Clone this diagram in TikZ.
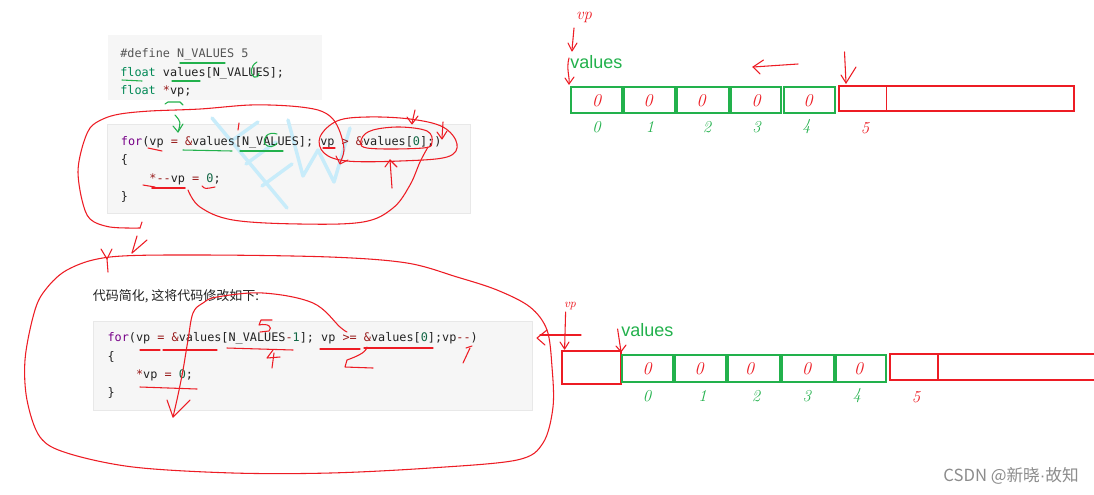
\documentclass[tikz,border=0pt]{standalone}
\usepackage{fontspec}
\setmonofont{DejaVu Sans Mono}
\newfontfamily\cjk{Noto Sans CJK SC}
\newfontfamily\lab{Liberation Sans}
\definecolor{hred}{RGB}{237,28,36}
\definecolor{hgreen}{RGB}{34,177,76}
\definecolor{codebg}{RGB}{246,246,246}
\definecolor{codeborder}{RGB}{232,232,232}
\definecolor{ckw}{HTML}{770088}
\definecolor{cty}{HTML}{008855}
\definecolor{cnum}{HTML}{116644}
\definecolor{cop}{HTML}{981A1A}
\definecolor{cmeta}{HTML}{555555}
\definecolor{ctext}{HTML}{222222}
\definecolor{wmark}{RGB}{200,236,250}
\newcommand{\kw}[1]{\textcolor{ckw}{#1}}
\newcommand{\ty}[1]{\textcolor{cty}{#1}}
\newcommand{\nm}[1]{\textcolor{cnum}{#1}}
\newcommand{\op}[1]{\textcolor{cop}{#1}}
\begin{document}
\begin{tikzpicture}[x=0.75pt,y=-0.75pt,
  code/.style={anchor=base west,inner sep=0pt,font=\fontsize{8.87}{10}\ttfamily,text=ctext},
  pen/.style={draw=hred,line width=0.8pt,line cap=round,line join=round},
  gpen/.style={draw=hgreen,line width=0.8pt,line cap=round,line join=round},
  gbox/.style={draw=hgreen,line width=1.5pt},
  rbox/.style={draw=hred,line width=1.5pt},
  hand/.style={inner sep=0pt,font=\fontsize{12.5}{12.5}\selectfont\itshape},
  bighand/.style={inner sep=0pt,font=\fontsize{13.5}{13.5}\selectfont\itshape,text=hred},
  lbl/.style={anchor=base west,inner sep=0pt,font=\lab\fontsize{13.5}{14}\selectfont,text=hgreen},
  wm/.style={draw=wmark,line width=2.6pt,line cap=round,line join=round}]
\useasboundingbox (0,0) rectangle (1094,494);
\fill[white] (0,0) rectangle (1094,494);

% code backgrounds
\fill[codebg] (108,35) rectangle (322,100);
\draw[fill=codebg,draw=codeborder] (107,124) rectangle (470,213);
\draw[fill=codebg,draw=codeborder] (93,321) rectangle (532,410);

% cyan watermark
\draw[wm] (212,118) -- (287,208);
\draw[wm] (230,142) -- (258,122);
\draw[wm] (246,164) -- (276,142);
\draw[wm] (262,186) -- (292,164);
\draw[wm] (288,120) -- (303,176) -- (318,150) -- (334,182) -- (350,128);

% code block 1
\node[code] (c1a) at (120,57.5) {\textcolor{cmeta}{\#define N\_VALUES 5}};
\node[code] (c1b) at (120,76) {\ty{float} values[N\_VALUES];};
\node[code] (c1c) at (120,94.5) {\ty{float} \op{*}vp;};
% code block 2
\node[code] (c2a) at (120.7,145) {\kw{for}(vp \op{=} \op{\&}values[N\_VALUES]; vp \op{>} \op{\&}values[\nm{0}];)};
\node[code] (c2b) at (120.7,163.5) {\{};
\node[code] (c2c) at (149.2,182) {\op{*--}vp \op{=} \nm{0};};
\node[code] (c2d) at (120.7,200.5) {\}};
% chinese text
\node[anchor=base west,inner sep=0pt,font=\cjk\fontsize{9.75}{11}\selectfont,text=ctext] (cn) at (92.7,300) {代码简化, 这将代码修改如下:};
% code block 3
\node[code] (c3a) at (107.3,341.7) {\kw{for}(vp \op{=} \op{\&}values[N\_VALUES\op{-}\nm{1}]; vp \op{>=} \op{\&}values[\nm{0}];vp\op{--})};
\node[code] (c3b) at (107.3,360) {\{};
\node[code] (c3c) at (135.8,378.3) {\op{*}vp \op{=} \nm{0};};
\node[code] (c3d) at (107.3,396.6) {\}};

% top array
\draw[gbox] (570.7,86.7) rectangle (622.3,112.7);
\draw[gbox] (624,86.7) rectangle (675,112.7);
\draw[gbox] (677.4,86.7) rectangle (729,112.7);
\draw[gbox] (730.8,86.7) rectangle (781.4,112.7);
\draw[gbox] (784,86.7) rectangle (835,112.7);
\draw[rbox] (839.3,86) rectangle (1074.2,111);
\draw[hred,line width=1pt] (886.8,86) -- (886.8,111);
\foreach \x/\n in {596.5/a0,648/a1,701/a2,756/a3,808/a4}{\node[bighand] (t\n) at (\x,101) {0};}
\foreach \x/\d in {596.5/0,650/1,707/2,756.6/3,806.6/4}{\node[hand,text=hgreen] (ti\d) at (\x,127) {\d};}
\node[hand,text=hred] (ti5) at (865,128) {5};
\node[lbl] (val1) at (570,68.3) {values};
\node[hand,text=hred] (vp1) at (584,17) {vp};
\draw[pen] (574,28) -- (572,50); \draw[pen] (568,43) -- (572,51) -- (577,43);
\draw[pen] (569,58) .. controls (566,69) and (570,77) .. (569,84); \draw[pen] (565,78) -- (569,84) -- (574,77);
\draw[pen] (844.5,52) -- (846,83); \draw[pen] (841,75) -- (846,83) -- (856,67);
\draw[pen] (798,64) -- (753,67); \draw[pen] (763.5,60) -- (753,67) -- (760,74);

% bottom array
\draw[rbox] (562,350.7) rectangle (621,384);
\draw[gbox] (622,355) rectangle (673,381.7);
\draw[gbox] (675,355) rectangle (726,381.7);
\draw[gbox] (728,355) rectangle (780,381.7);
\draw[gbox] (782,355) rectangle (834,381.7);
\draw[gbox] (835.5,355) rectangle (886,381.7);
\draw[rbox] (1094,354) -- (890,354) -- (890,380) -- (1094,380);
\draw[hred,line width=1pt] (938,354) -- (938,380);
\foreach \x/\n in {647/b0,699/b1,749.5/b2,806.7/b3,858.7/b4}{\node[bighand] (t\n) at (\x,369) {0};}
\foreach \x/\d in {647/0,702.6/1,756/2,806.7/3,857/4}{\node[hand,text=hgreen] (tj\d) at (\x,396) {\d};}
\node[hand,text=hred] (tj5) at (916,397) {5};
\node[lbl] (val2) at (621,336.7) {values};
\node[hand,text=hred,font=\fontsize{9}{9}\selectfont\itshape] (vp2) at (570,306) {vp};
\draw[pen] (565.6,312) -- (564.6,349); \draw[pen] (560,342) -- (564.6,349) -- (569,342);
\draw[pen] (617.6,329) .. controls (619,340) .. (621,351.7); \draw[pen] (616,346) -- (621,351.7) -- (626,345);
\draw[pen] (540,335) -- (581,335);
\draw[pen] (547,330) -- (537,338) -- (545,345);

% block 1 green marks
\draw[gpen] (122,80) -- (142,81);
\draw[gpen] (172,81) -- (200,81);
\draw[gpen] (180,63) -- (225,63);
\draw[gpen] (257,62) .. controls (250,66) and (250,74) .. (254,77) .. controls (258,77) .. (259,73);
\draw[gpen] (165,104) -- (168,102) -- (180,102) -- (183,105);

% block 2 marks
\draw[gpen] (175,115) .. controls (181,122) .. (178,132); \draw[gpen] (173,126) -- (178,132) -- (183,124);
\draw[gpen] (183,150) -- (232,151);
\draw[gpen] (240,151) -- (283,151);
\draw[gpen] (277,134) .. controls (268,131) and (262,138) .. (265,144) .. controls (268,148) and (275,147) .. (277,143);
\draw[pen] (148,148) -- (162,151);
\draw[pen] (323,148) -- (335,148);
\draw[pen,line width=1.3pt] (152,188) -- (185,188);
\draw[pen] (143,185) -- (155,187);
\draw[pen] (202,186) .. controls (205,189) .. (215,187);
\draw[pen] (239,123) -- (238,130);

% loop A around block 2
\draw[pen] plot[smooth,tension=0.55] coordinates {(140,228) (110,227) (90,219) (82,200) (78,172) (82,148) (90,128) (103,119) (120,114) (150,111) (200,109) (250,105) (290,106) (318,110) (332,118) (340,132) (344,150) (340,163)};
\draw[pen] (140,228) -- (142,222);
\draw[pen] (336,156) -- (340,164) -- (348,160);
% ovals
\draw[pen] plot[smooth cycle,tension=0.6] coordinates {(320,137) (337,121) (367,117) (410,119) (443,127) (457,144) (447,157) (400,161) (347,161) (324,153)};
\draw[pen] plot[smooth cycle,tension=0.6] coordinates {(362,138) (373,130) (400,127) (427,131) (432,142) (423,148) (367,148)};
% loop B
\draw[pen] plot[smooth,tension=0.6] coordinates {(188,190) (200,207) (233,220) (300,224) (363,222) (393,208) (410,185) (420,162) (428,147)};
\draw[pen] (415,110) -- (412,123); \draw[pen] (407,117) -- (412,124) -- (418,116);
\draw[pen] (443,122) -- (442,138); \draw[pen] (437,132) -- (442,139) -- (447,131);
\draw[pen] (392,188) -- (390,160); \draw[pen] (385,167) -- (390,160) -- (397,167);

% arrow down to second part
\draw[pen] (137,236) -- (132,253); \draw[pen] (147,240) -- (132,253);

% big ellipse around block 3
\draw[pen] plot[smooth cycle,tension=0.55] coordinates {(110,257) (200,255) (330,257) (407,263) (457,277) (497,290) (530,307) (547,330) (552,367) (553,407) (543,443) (517,460) (430,468) (330,473) (233,473) (133,467) (67,453) (40,437) (27,400) (25,360) (33,317) (43,293) (67,270)};
\draw[pen] (101,249) -- (107,259) -- (108,272); \draw[pen] (112,249) -- (107,259);

% block 3 marks
\draw[pen] plot[smooth,tension=0.6] coordinates {(173,417) (178,395) (183,370) (188,340) (193,313) (203,303) (217,297) (263,293) (313,303) (340,327) (347,332)};
\draw[pen] (167,400) -- (173,417) -- (190,400);
\draw[pen] (140,350) -- (160,350);
\draw[pen] (163,350) -- (217,350);
\draw[pen] (227,348) -- (293,350);
\draw[pen] (320,349) -- (360,349);
\draw[pen] (364,348) -- (433,348);
\draw[pen] (140,387) -- (197,389);
\draw[pen] (272,320) -- (261,320) -- (259,325) .. controls (268,323) and (273,327) .. (269,331) -- (260,332);
\draw[pen] (273,350) -- (267,358) -- (280,357); \draw[pen] (274,353) -- (272,368);
\draw[pen] (367,347) .. controls (366,353) and (355,357) .. (347,360) -- (345,367) -- (373,368);
\draw[pen] (463,363) -- (470,348); \draw[pen] (466,348) -- (472,346);

% CSDN mark
\node[anchor=base east,inner sep=0pt,font=\cjk\fontsize{12.5}{13}\selectfont,text=black!45] (csdn) at (1079,481.7) {CSDN @新晓{\lab ·}故知};
\end{tikzpicture}
\end{document}
